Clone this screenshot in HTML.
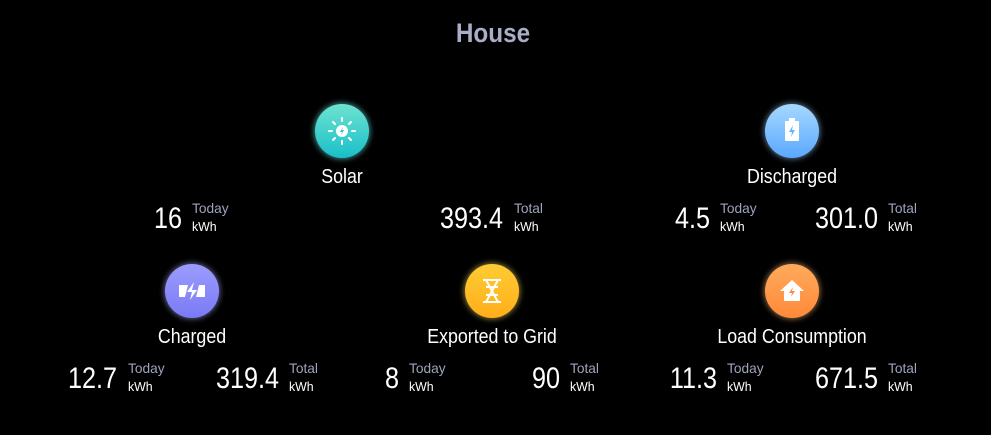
<!DOCTYPE html>
<html><head><meta charset="utf-8">
<style>
html,body{margin:0;padding:0;background:#000;width:991px;height:435px;overflow:hidden}
svg{display:block;font-family:"Liberation Sans Narrow","Liberation Sans",sans-serif}
</style></head>
<body>
<svg id="card" width="991" height="435" viewBox="0 0 991 435">
<defs>
<filter id="glow" x="-50%" y="-50%" width="200%" height="200%"><feGaussianBlur stdDeviation="3"/></filter>
<linearGradient id="gSolar" x1="0" y1="0" x2="0" y2="1"><stop offset="0" stop-color="#6ee3cf"/><stop offset="1" stop-color="#19bfca"/></linearGradient>
<linearGradient id="gDis" x1="0" y1="0" x2="0" y2="1"><stop offset="0" stop-color="#a6d8ff"/><stop offset="1" stop-color="#5aa8ff"/></linearGradient>
<linearGradient id="gChg" x1="0" y1="0" x2="0" y2="1"><stop offset="0" stop-color="#9c9cff"/><stop offset="1" stop-color="#7a7af5"/></linearGradient>
<linearGradient id="gExp" x1="0" y1="0" x2="0" y2="1"><stop offset="0" stop-color="#ffcc33"/><stop offset="1" stop-color="#ffae1a"/></linearGradient>
<linearGradient id="gLoad" x1="0" y1="0" x2="0" y2="1"><stop offset="0" stop-color="#ffaa5c"/><stop offset="1" stop-color="#ff8a3a"/></linearGradient>
</defs>
<text transform="translate(493,42) scale(0.9,1)" text-anchor="middle" font-size="27" font-weight="bold" fill="#a9adc8">House</text>
</svg>
<script>
const names=["Solar","Discharged","Charged","Exported to Grid","Load Consumption"];
const todayVals=["16","4.5","12.7","8","11.3"];
const totalVals=["393.4","301.0","319.4","90","671.5"];
const ns="http://www.w3.org/2000/svg";
const svg=document.getElementById('card');
const L=[
 {cx:342,cy:131,g:"gSolar",glow:"#7ff",tEnd:182,tLab:192,oEnd:503,oLab:514,key:"solar"},
 {cx:792,cy:131,g:"gDis",glow:"#9cf",tEnd:710,tLab:720,oEnd:878,oLab:888,key:"discharged"},
 {cx:192,cy:291,g:"gChg",glow:"#aaf",tEnd:117,tLab:128,oEnd:279,oLab:289,key:"charged"},
 {cx:492,cy:291,g:"gExp",glow:"#fd6",tEnd:399,tLab:409,oEnd:560,oLab:570,key:"exported"},
 {cx:792,cy:291,g:"gLoad",glow:"#fb7",tEnd:717,tLab:727,oEnd:878,oLab:888,key:"load"}
];
function mk(tag,attrs,parent){const e=document.createElementNS(ns,tag);for(const k in attrs)e.setAttribute(k,attrs[k]);(parent||svg).appendChild(e);return e;}
function txt(parent,x,y,size,fill,anchor,s,sx){
 const t=mk('text',{transform:`translate(${x},${y}) scale(${sx},1)`,'font-size':size,fill:fill,'text-anchor':anchor},parent);
 t.textContent=s;return t;
}
const glyphs={
 solar:'<circle r="6" fill="#fff"/><path d="M1-4L-2 1H0L-1 4L2-1H0Z" fill="#2cc6c8"/><g stroke="#fff" stroke-width="2" stroke-linecap="round"><path d="M0-13V-10M0 10V13M-13 0H-10M10 0H13M-9-9L-7-7M7 7L9 9M-9 9L-7 7M7-7L9-9"/></g>',
 discharged:'<rect x="-7" y="-10" width="14" height="20" rx="1" fill="#fff"/><rect x="-3" y="-13" width="6" height="3" fill="#fff"/><path d="M1-6L-3 1H0L-1 6L3-1H0Z" fill="#6bb2ff"/>',
 charged:'<path d="M-13-6H-4L-7 6H-13ZM13-6V6H4L7-6Z" fill="#fff"/><path d="M2-9L-5 1H0L-2 9L5-1H0Z" fill="#fff"/>',
 exported:'<g stroke="#fff" stroke-width="2" fill="none"><path d="M-9-11H9M-9 11H9M-6-11L6 11M6-11L-6 11M-6-4H6M-6 4H6"/></g>',
 load:'<path d="M0-11L-12 0H-8V10H8V0H12Z" fill="#fff"/><path d="M1-4L-3 2H0L-1 6L3 0H0Z" fill="#ff8f40"/>'
};
L.forEach((p,i)=>{
 const g=mk('g',{});
 
 
 const halo=mk('circle',{cx:p.cx,cy:p.cy,r:28,fill:p.glow,opacity:0.55,filter:'url(#glow)'},g);
 
 
 const c=mk('circle',{cx:p.cx,cy:p.cy,r:27,fill:'url(#'+p.g+')'},g);
 
 
 const ic=mk('g',{transform:`translate(${p.cx},${p.cy})`},g);
 ic.innerHTML=glyphs[p.key];
 
 
 const lb=txt(g,p.cx,p.cy+52,20,'#fff','middle',names[i],0.89);
 
 
 const by=p.cy+97;
 const tv=txt(g,p.tEnd,by,30,'#fff','end',todayVals[i],0.84);
 
 
 const tl=txt(g,p.tLab,by-15,14,'#9ea3ba','start','Today',0.98);
 
 
 const tu=txt(g,p.tLab,by+3,13,'#fff','start','kWh',0.95);
 
 
 const ov=txt(g,p.oEnd,by,30,'#fff','end',totalVals[i],0.84);
 
 
 const ol=txt(g,p.oLab,by-15,14,'#9ea3ba','start','Total',0.98);
 
 
 const ou=txt(g,p.oLab,by+3,13,'#fff','start','kWh',0.95);
 
 
});
</script>
</body></html>
